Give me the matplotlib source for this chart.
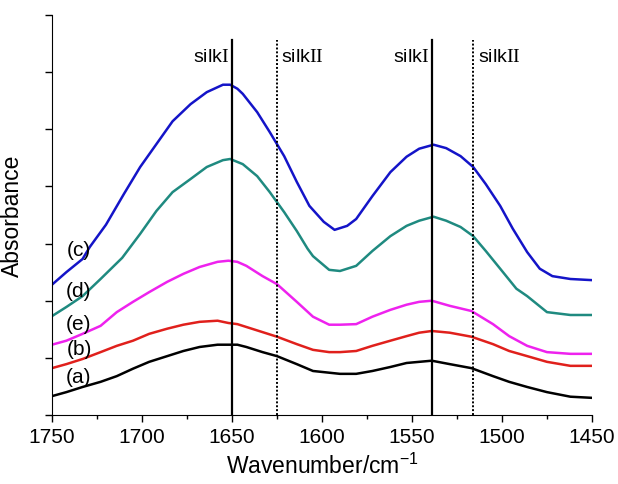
import numpy as np
import matplotlib
matplotlib.use("Agg")
import matplotlib.pyplot as plt
from matplotlib.ticker import MultipleLocator

plt.rcParams['font.family'] = ['Liberation Sans', 'DejaVu Sans']
plt.rcParams['mathtext.fontset'] = 'custom'
plt.rcParams['mathtext.rm'] = 'Liberation Serif'
plt.rcParams['mathtext.sf'] = 'Liberation Sans'

# Wavenumber grid (cm-1), for the three flatter curves
wavenumber = [1750, 1742, 1733, 1723, 1714, 1705, 1696, 1686, 1677, 1668,
              1658, 1652, 1647, 1642, 1633, 1625, 1614, 1605, 1596, 1590,
              1581, 1572, 1562, 1553, 1546, 1539, 1529, 1517, 1505, 1496,
              1486, 1475, 1462, 1450]

# Absorbance (arbitrary, offset) for each sample
abs_a = [0.33, 0.40, 0.49, 0.58, 0.68, 0.81, 0.93, 1.03, 1.12, 1.19,
         1.23, 1.23, 1.23, 1.19, 1.10, 1.03, 0.89, 0.77, 0.74, 0.72,
         0.72, 0.77, 0.84, 0.91, 0.93, 0.95, 0.89, 0.82, 0.68, 0.58,
         0.49, 0.40, 0.32, 0.30]
abs_b = [0.82, 0.89, 0.98, 1.10, 1.21, 1.30, 1.42, 1.51, 1.58, 1.63,
         1.65, 1.61, 1.59, 1.54, 1.45, 1.37, 1.24, 1.14, 1.10, 1.10,
         1.12, 1.21, 1.30, 1.38, 1.44, 1.47, 1.44, 1.37, 1.24, 1.12,
         1.03, 0.93, 0.86, 0.86]
abs_e = [1.23, 1.30, 1.42, 1.56, 1.80, 1.98, 2.15, 2.33, 2.47, 2.59,
         2.68, 2.70, 2.68, 2.61, 2.43, 2.29, 1.98, 1.72, 1.58, 1.58,
         1.59, 1.72, 1.84, 1.93, 1.98, 2.00, 1.91, 1.82, 1.59, 1.38,
         1.21, 1.10, 1.07, 1.07]

# the two strong curves were read on a finer grid
wavenumber_c = [1750, 1742, 1733, 1729, 1720, 1710, 1701, 1692, 1683,
                1673, 1664, 1655, 1651, 1647, 1644, 1636, 1629, 1621, 1614,
                1607, 1599, 1593, 1586, 1581, 1572, 1562, 1553, 1546, 1538,
                1531, 1523, 1516, 1509, 1501, 1494, 1486, 1479, 1472, 1462,
                1450]
abs_c = [2.28, 2.50, 2.73, 2.94, 3.33, 3.87, 4.34, 4.74, 5.14,
         5.44, 5.65, 5.78, 5.78, 5.71, 5.62, 5.30, 4.95, 4.53, 4.08,
         3.66, 3.38, 3.24, 3.31, 3.43, 3.83, 4.25, 4.52, 4.66, 4.73,
         4.67, 4.53, 4.34, 4.04, 3.66, 3.26, 2.85, 2.56, 2.43, 2.38,
         2.36]
wavenumber_d = [1750, 1742, 1733, 1723, 1711, 1701, 1692, 1683, 1673, 1664,
                1655, 1651, 1644, 1636, 1629, 1621, 1614, 1608, 1605, 1596,
                1590, 1581, 1572, 1562, 1553, 1546, 1538, 1531, 1523, 1516,
                1509, 1501, 1492, 1486, 1475, 1462, 1450]
abs_d = [1.73, 1.89, 2.08, 2.38, 2.75, 3.17, 3.57, 3.90, 4.13, 4.34,
         4.46, 4.48, 4.39, 4.18, 3.90, 3.55, 3.22, 2.91, 2.78, 2.54,
         2.52, 2.61, 2.87, 3.13, 3.31, 3.40, 3.47, 3.40, 3.29, 3.13,
         2.87, 2.56, 2.21, 2.08, 1.80, 1.75, 1.75]

series = [
    ("(a)", wavenumber, abs_a, "black", 0.67),
    ("(b)", wavenumber, abs_b, "#e0201c", 1.16),
    ("(e)", wavenumber, abs_e, "#ee22ee", 1.60),
    ("(d)", wavenumber_d, abs_d, "#1f8a80", 2.18),
    ("(c)", wavenumber_c, abs_c, "#1414c8", 2.90),
]

# reference band positions
silk1_pos = [1650, 1539]
silk2_pos = [1625, 1516]

fig = plt.figure(figsize=(6.18, 4.85), dpi=100)
ax = fig.add_axes([0.0841, 0.1423, 0.8738, 0.8247])

for label, x, y, color, ylab in series:
    ax.plot(x, y, color=color, lw=1.8)
    ax.text(1735, ylab, label, fontsize=15, ha='center', va='center')

line_top = 6.56
for x in silk1_pos:
    ax.plot([x, x], [0, line_top], color='black', lw=1.6)
    ax.text(x + 1.5, 6.28, r"silk$\mathrm{I}$", fontsize=14, ha='right', va='center')
for x in silk2_pos:
    ax.plot([x, x], [0, line_top], color='black', lw=1.4, linestyle=(0, (1, 1)))
    ax.text(x - 2.5, 6.28, r"silk$\mathrm{II}$", fontsize=14, ha='left', va='center')

ax.set_xlim(1750, 1450)
ax.set_ylim(0, 7)
ax.xaxis.set_major_locator(MultipleLocator(50))
ax.xaxis.set_minor_locator(MultipleLocator(25))
ax.yaxis.set_major_locator(MultipleLocator(1))
ax.set_yticklabels([])
ax.tick_params(axis='both', which='major', direction='out', length=5, width=1, labelsize=15)
ax.tick_params(axis='x', which='minor', direction='out', length=3, width=1)

ax.spines['top'].set_visible(False)
ax.spines['right'].set_visible(False)

ax.set_xlabel(r"Wavenumber/cm$^{\mathsf{-1}}$", fontsize=16.5, labelpad=5)
ax.set_ylabel("Absorbance", fontsize=16.5, labelpad=12)

fig.savefig("out.png", dpi=100)
